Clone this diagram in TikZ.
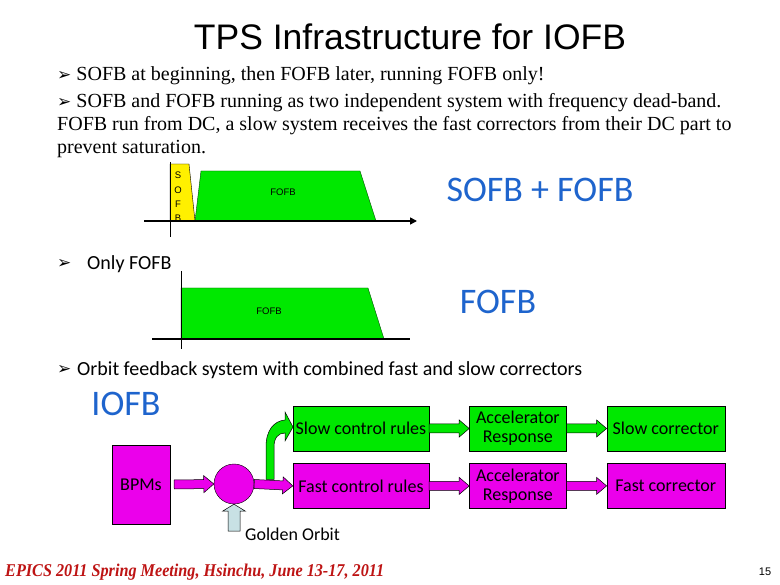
\documentclass[tikz,border=0pt]{standalone}
\usepackage{fontspec}
\usepackage{tikz}
\usepackage{xcolor}
\usetikzlibrary{calc}
\usetikzlibrary{positioning, arrows.meta}

\setmainfont{Liberation Serif}
\newfontfamily\calibri{Carlito}
\newfontfamily\arial{Liberation Sans}
\newfontfamily\dejavu{DejaVu Sans}

\definecolor{boxgreen}{RGB}{0,232,0}
\definecolor{boxpink}{RGB}{235,0,235}
\definecolor{labelblue}{RGB}{30,100,205}
\definecolor{goldfill}{RGB}{200,225,228}
\definecolor{sofbyellow}{RGB}{255,240,0}
\definecolor{footred}{RGB}{190,20,20}

% block arrow: style, from, to, half shaft, half head, head length
\newcommand{\blockarrow}[6]{%
  \coordinate (ba-h) at ($(#3)!#6!(#2)$);
  \filldraw[#1] ($(#2)!#4!90:(#3)$) -- ($(ba-h)!#4!90:(#3)$) -- ($(ba-h)!#5!90:(#3)$)
    -- (#3) -- ($(ba-h)!#5!-90:(#3)$) -- ($(ba-h)!#4!-90:(#3)$) -- ($(#2)!#4!-90:(#3)$) -- cycle;
}
\newcommand{\bull}{{\dejavu\fontsize{17}{17}\selectfont ➢}}

\begin{document}
\begin{tikzpicture}[x=1pt, y=-1pt, node distance=40pt,
    serif/.style = {anchor=west, inner sep=0pt, font=\fontsize{20}{24}\selectfont},
    sans/.style = {anchor=west, inner sep=0pt, font=\calibri\fontsize{20}{22}\selectfont},
    big/.style = {inner sep=0pt, text=labelblue, font=\calibri\fontsize{36}{40}\selectfont},
    small/.style = {inner sep=0pt, font=\arial\fontsize{9.5}{10}\selectfont},
    gbox/.style = {draw, fill=boxgreen, minimum height=45pt, inner sep=0pt, align=center,
                   font=\calibri\fontsize{18}{19}\selectfont},
    pbox/.style = {gbox, fill=boxpink},
    axis/.style = {line width=1.6pt, -{Triangle[length=7pt, width=7pt]}},
    pinkarrow/.style = {draw=black, fill=boxpink, line width=0.5pt},
    greenarrow/.style = {draw=black, fill=boxgreen, line width=0.5pt}]
    \useasboundingbox[fill=white] (0,0) rectangle (780,585);

    % Title and text
    \node[inner sep=0pt, font=\arial\fontsize{35.5}{40}\selectfont] (title) at (410,37) {TPS Infrastructure for IOFB};
    \node[serif] (line1) at (57,76) {\bull{} SOFB at beginning, then FOFB later, running FOFB only!};
    \node[serif] (line2) at (57,103) {\bull{} SOFB and FOFB running as two independent system with frequency dead-band.};
    \node[serif] (line3) at (57,126) {FOFB run from DC, a slow system receives the fast correctors from their DC part to};
    \node[serif] (line4) at (57,149) {prevent saturation.};

    % First chart
    \filldraw[fill=sofbyellow, draw=black, line width=0.4pt] (170,221) -- (170,164) -- (189,164) -- (195,221) -- cycle;
    \filldraw[fill=boxgreen, draw=black!70!green, line width=0.4pt] (195,221) -- (201,171) -- (360,171) -- (376,221) -- cycle;
    \node[small] (s1) at (178,175) {S};
    \node[small] (s2) at (178,190) {O};
    \node[small] (s3) at (178,204) {F};
    \node[small] (s4) at (178,218) {B};
    \node[small] (fofb1) at (283,192) {FOFB};
    \draw[line width=0.8pt] (170,162) -- (170,237);
    \draw[axis] (144,221) -- (417,221);
    \node[big] (both) at (540,190) {SOFB + FOFB};

    \node[sans] (only) at (57,264) {\bull};
    \node[sans] (onlytext) at (87,264) {Only FOFB};

    % Second chart
    \filldraw[fill=boxgreen, draw=black!70!green, line width=0.4pt] (181,339) -- (181,288) -- (368,288) -- (384,339) -- cycle;
    \node[small] (fofb2) at (269,311) {FOFB};
    \draw[line width=0.8pt] (181,271) -- (181,349);
    \draw[line width=1.6pt] (152,339) -- (410,339);
    \node[big] (fast) at (498,302) {FOFB};

    \node[sans] (orbit) at (57,370) {\bull};
    \node[sans] (orbittext) at (77,370) {Orbit feedback system with combined fast and slow correctors};
    \node[big] (iofb) at (126,404) {IOFB};

    % Block diagram
    \node[pbox, minimum width=58pt, minimum height=79pt] (bpm) at (141,484.5) {BPMs};
    \node[draw, circle, fill=boxpink, minimum size=40pt, inner sep=0pt] (hub) at (234,484) {};
    \node[gbox, minimum width=136pt] (slowrule) at (361,428.5) {Slow control rules};
    \node[gbox, minimum width=97pt, right=of slowrule] (acc1) {Accelerator\\Response};
    \node[gbox, minimum width=118pt, right=of acc1] (slowcor) {Slow corrector};
    \node[pbox, minimum width=136pt, below=12pt of slowrule] (fastrule) {Fast control rules};
    \node[pbox, minimum width=97pt, right=of fastrule] (acc2) {Accelerator\\Response};
    \node[pbox, minimum width=118pt, right=of acc2] (fastcor) {Fast corrector};
    \node[anchor=west, inner sep=0pt, font=\calibri\fontsize{18}{19}\selectfont] (golden) at (245,534) {Golden Orbit};

    % Arrows
    \coordinate (bpm-out) at ($(bpm.east)+(4,0)$);
    \coordinate (gold) at (234,531);
    \blockarrow{pinkarrow}{bpm-out}{hub.west}{4.5pt}{8.5pt}{10pt}
    \blockarrow{pinkarrow}{hub.east}{fastrule.west}{4.5pt}{8.5pt}{10pt}
    \blockarrow{pinkarrow}{fastrule.east}{acc2.west}{4.5pt}{8.5pt}{10pt}
    \blockarrow{pinkarrow}{acc2.east}{fastcor.west}{4.5pt}{8.5pt}{10pt}
    \blockarrow{greenarrow}{slowrule.east}{acc1.west}{4.5pt}{8.5pt}{10pt}
    \blockarrow{greenarrow}{acc1.east}{slowcor.west}{4.5pt}{8.5pt}{10pt}
    \blockarrow{draw=black, fill=goldfill, line width=0.5pt}{gold}{hub.south}{6pt}{11.5pt}{7pt}
    \filldraw[greenarrow] (266,479.5) -- (266,447) .. controls (266,430) and (274,421) .. (285,420)
        -- (285,412) -- (293,427) -- (285,441) -- (285,433) .. controls (278,433) and (274,438) .. (274,447)
        -- (274,479.5) -- cycle;

    % Footer
    \node[anchor=west, inner sep=0pt, text=footred] (foot) at (5,572)
        {\scalebox{0.9}[1]{\fontsize{18}{18}\selectfont\bfseries\itshape EPICS 2011 Spring Meeting, Hsinchu, June 13-17, 2011}};
    \node[inner sep=0pt, font=\arial\fontsize{11}{11}\selectfont] (page) at (765,572) {15};
\end{tikzpicture}
\end{document}
